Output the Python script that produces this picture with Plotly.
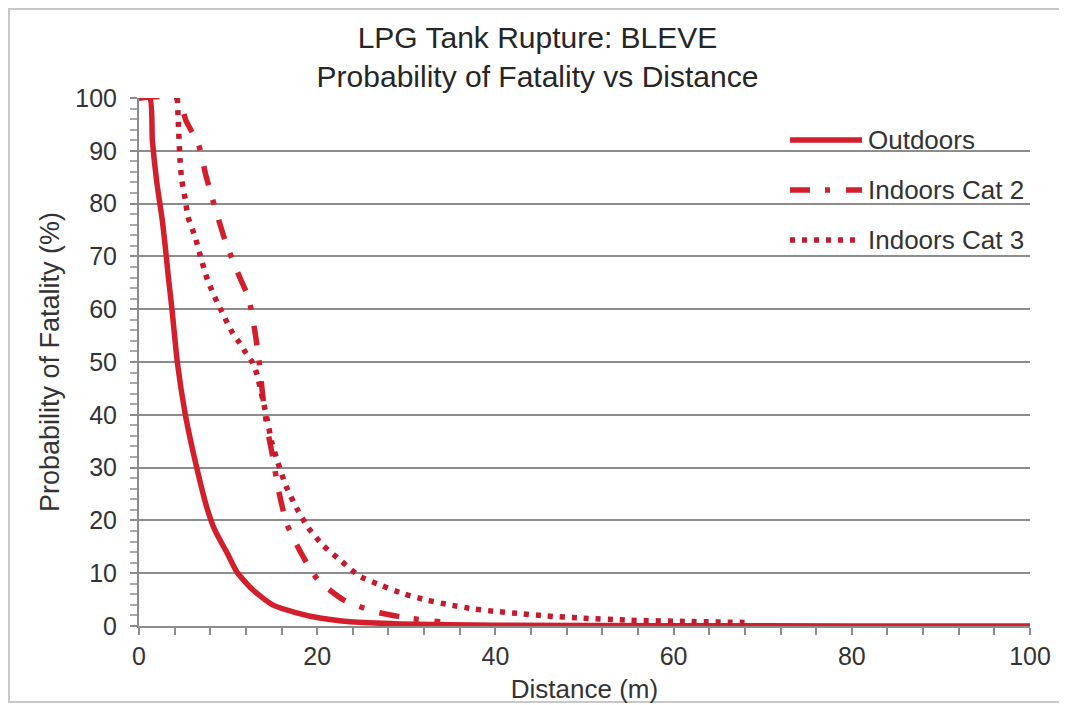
import plotly.graph_objects as go

# Distance (m) and probability of fatality (%)
outdoors_x = [0, 1.2, 1.5, 2.0, 2.6, 3.0, 3.3, 3.7, 4.3, 5.2, 6.0, 6.9, 7.6, 8.5, 9.9, 11.0,
              12.8, 15.0, 17.7, 20.3, 23.7, 29.3, 40, 60, 80, 100]
outdoors_y = [100, 100, 92, 84, 77, 71, 66, 60, 50, 40, 33.5, 27, 22.5, 18.2, 13.8, 10.2,
              6.8, 4.0, 2.5, 1.5, 0.8, 0.4, 0.15, 0.05, 0.02, 0]

cat2_x = [0, 4.3, 5.3, 6.7, 7.5, 8.5, 9.65, 10.9, 12.3, 13.0, 13.5, 13.9, 14.4, 14.9, 15.7,
          16.6, 18.2, 20.1, 23.0, 26.5, 30.2, 33.8]
cat2_y = [100, 100, 95.6, 91.1, 85.4, 79.4, 73.1, 67.6, 62.1, 55.9, 49.8, 43.4, 37.3, 33,
          25.4, 19.3, 13.8, 8.7, 4.9, 2.7, 1.5, 0.8]

cat3_x = [4.3, 4.4, 4.6, 4.8, 5.2, 5.5, 6.3, 6.8, 7.7, 8.75, 9.3, 10.5, 11.3, 12.0, 12.7,
          13.2, 13.8, 14.4, 14.9, 15.6, 16.5, 17.7, 19.0, 20.7, 22.7, 24.7, 27.3, 29.7,
          32.3, 34.9, 37.7, 40.4, 43.1, 45.7, 49.7, 55.1, 61.8, 68.6]
cat3_y = [100, 96, 88.3, 84.5, 80.7, 77.5, 73.7, 70.6, 65.5, 61.4, 59.5, 55.5, 53.6, 51.7,
          50, 47.9, 43.6, 39, 34.8, 30.9, 26.5, 22.3, 18.6, 15.2, 12.3, 9.5, 7.6, 6.1,
          4.9, 4.0, 3.2, 2.7, 2.3, 1.9, 1.5, 1.1, 0.85, 0.66]

series_names = ["Outdoors", "Indoors Cat 2", "Indoors Cat 3"]
y_ticks = list(range(0, 101, 10))
x_ticks = list(range(0, 101, 20))

RED = "#d21f2b"
RED3 = "#c41a2e"
FONT = "Liberation Sans, Arial, sans-serif"
DASH2 = "20px,15px,5px,16px"
DASH3 = "5px,7px"

styles = [
    dict(color=RED, width=5.5),
    dict(color=RED, width=5.5, dash=DASH2),
    dict(color=RED3, width=5.5, dash=DASH3),
]
data = [(outdoors_x, outdoors_y), (cat2_x, cat2_y), (cat3_x, cat3_y)]

fig = go.Figure()
for name, (xs, ys), st in zip(series_names, data, styles):
    fig.add_trace(go.Scatter(x=xs, y=ys, name=name, mode="lines", showlegend=False,
                             line=dict(shape="spline", smoothing=0.6, **st)))

# page has an 8px body margin, so the figure is 8px smaller and offset
W, H = 1059, 697
ML, MR, MT, MB = 131, 37, 90, 79
pw, ph = W - ML - MR, H - MT - MB

fig.update_layout(
    width=W, height=H,
    paper_bgcolor="white", plot_bgcolor="white",
    margin=dict(l=ML, r=MR, t=MT, b=MB),
    font=dict(family=FONT, size=25, color="#333333"),
    title=dict(text="LPG Tank Rupture: BLEVE<br>Probability of Fatality vs Distance",
               x=0.5, xanchor="center", y=0.942, yanchor="top",
               font=dict(family=FONT, size=30, color="#262626")),
    showlegend=False,
    xaxis=dict(range=[0, 100], tickvals=x_ticks, showgrid=False, zeroline=False,
               automargin=False,
               showline=True, linecolor="#8c8c8c", linewidth=2,
               ticks="outside", ticklen=7, tickcolor="#8c8c8c", tickwidth=2,
               minor=dict(dtick=4, ticks="outside", ticklen=7, tickcolor="#8c8c8c",
                          tickwidth=2, showgrid=False),
               title=dict(text="Distance (m)", font=dict(size=26), standoff=11)),
    yaxis=dict(range=[0, 100], tickvals=y_ticks, showgrid=True, gridcolor="#8c8c8c",
               automargin=False,
               gridwidth=2, zeroline=False, showline=True, linecolor="#8c8c8c",
               linewidth=2, ticks="outside", ticklen=7, tickcolor="#8c8c8c", tickwidth=2,
               ticklabelstandoff=8,
               minor=dict(dtick=2, ticks="outside", ticklen=7, tickcolor="#a8a8a8",
                          tickwidth=1.5, showgrid=False),
               title=dict(text="Probability of Fatality (%)", font=dict(size=27), standoff=8)),
)

# custom legend (long line samples as in the reference)
leg_x0 = (790 - 8 - ML) / pw
leg_x1 = (862 - 8 - ML) / pw
leg_tx = (866 - 8 - ML) / pw
leg_ys = [(H - MB - (140 - 8)) / ph, (H - MB - (190 - 8)) / ph, (H - MB - (240 - 8)) / ph]
for name, st, ly in zip(series_names, styles, leg_ys):
    fig.add_shape(type="line", xref="paper", yref="paper", x0=leg_x0, x1=leg_x1,
                  y0=ly, y1=ly, line=st)
    fig.add_annotation(text=name, xref="paper", yref="paper", x=leg_tx, y=ly,
                       xanchor="left", yanchor="middle", showarrow=False,
                       font=dict(family=FONT, size=26, color="#333333"))

# outer chart frame
fig.add_shape(type="rect", xref="paper", yref="paper",
              x0=(1 - ML) / pw, x1=(1054 - ML) / pw,
              y0=-(694 - (H - MB)) / ph, y1=1 + (MT - 1) / ph,
              line=dict(color="#c8c8c8", width=2), layer="below")

fig.write_html("out.html")
